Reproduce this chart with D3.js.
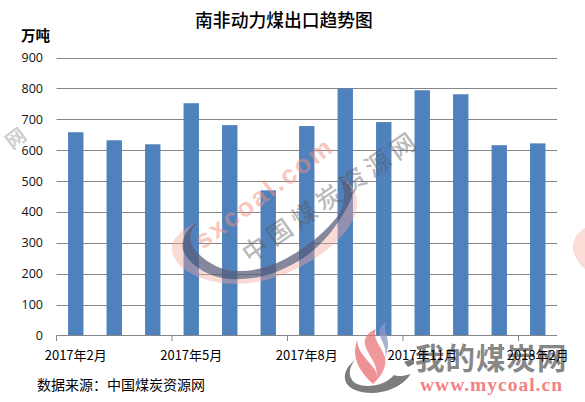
<!DOCTYPE html>
<html>
<head>
<meta charset="utf-8">
<script src="https://cdn.jsdelivr.net/npm/d3@7"></script>
<style>
  html, body { margin: 0; padding: 0; background: #fff; }
  svg { display: block; }
  text { font-family: "Open Sans", "Noto Sans CJK SC", sans-serif; fill: #111; }
  .cjk { font-family: "Noto Sans CJK SC", sans-serif; fill: #000; }
</style>
</head>
<body>
<svg id="chart"></svg>
<script>
const width = 585;
const height = 402;

// monthly exports
const months = ["2017年2月", "2017年3月", "2017年4月", "2017年5月", "2017年6月", "2017年7月", "2017年8月",
  "2017年9月", "2017年10月", "2017年11月", "2017年12月", "2018年1月", "2018年2月"];
const exportsWt = [658, 632, 619, 752, 681, 470, 678, 800, 691, 794, 781, 616, 622];
const yTicks = [0, 100, 200, 300, 400, 500, 600, 700, 800, 900];
const xLabels = ["2017年2月", "2017年5月", "2017年8月", "2017年11月", "2018年2月"];

const svg = d3.select("#chart").attr("width", width).attr("height", height);

const x = d3.scaleBand().domain(months).range([56.5, 557]).paddingInner(0.6).paddingOuter(0.3);
const y = d3.scaleLinear().domain([0, 900]).range([335.5, 57.5]);

// gridlines
svg.selectAll("line.grid")
  .data(yTicks.slice(1))
  .enter().append("line")
  .attr("class", "grid")
  .attr("x1", 56.5).attr("x2", 557)
  .attr("y1", d => Math.round(y(d)) + 0.5).attr("y2", d => Math.round(y(d)) + 0.5)
  .attr("stroke", "#868686");

// bars
svg.selectAll("rect.bar")
  .data(months)
  .enter().append("rect")
  .attr("class", "bar")
  .attr("x", d => x(d))
  .attr("width", x.bandwidth())
  .attr("y", (d, i) => y(exportsWt[i]))
  .attr("height", (d, i) => y(0) - y(exportsWt[i]))
  .attr("fill", "#4f81bd");

// y axis labels
svg.selectAll("text.ytick")
  .data(yTicks)
  .enter().append("text")
  .attr("class", "ytick")
  .attr("x", 43).attr("y", d => y(d) + 4.5)
  .attr("text-anchor", "end")
  .attr("font-size", 12.5)
  .text(d => d);

// x axis, ticks every third month
const step = x.step();
svg.append("line")
  .attr("x1", 56.5).attr("x2", 557).attr("y1", 335.5).attr("y2", 335.5)
  .attr("stroke", "#868686");
svg.selectAll("line.xtick")
  .data(xLabels)
  .enter().append("line")
  .attr("class", "xtick")
  .attr("x1", d => x(d) + x.bandwidth() / 2 - step / 2)
  .attr("x2", d => x(d) + x.bandwidth() / 2 - step / 2)
  .attr("y1", 335.5).attr("y2", 341)
  .attr("stroke", "#868686");

// titles
svg.append("text").attr("class", "cjk")
  .attr("x", 284).attr("y", 27)
  .attr("text-anchor", "middle")
  .attr("font-size", 17.8).attr("font-weight", 500)
  .text("南非动力煤出口趋势图");
svg.append("text").attr("class", "cjk")
  .attr("x", 21).attr("y", 41)
  .attr("font-size", 14.5).attr("font-weight", 700)
  .text("万吨");
svg.append("text").attr("class", "cjk")
  .attr("x", 37).attr("y", 390)
  .attr("font-size", 14)
  .text("数据来源：中国煤炭资源网");

// watermarks sit on top of the chart
const wm = svg.append("g");

// pink and dark swoosh, they share the inner edge
const swooshInner = "C347,190 345,205 337,217 C325,232 305,250 277,263 C262,269 250,271 240,271 C222,272 205,262 195,250 C187,240 190,230 198,222 Z";
wm.append("path")
  .attr("d", "M198,222 C180,230 170,240 172,251 C175,270 205,284 235,284 C275,284 320,262 345,232 C356,218 360,205 355,192 C352,185 345,180 338,176 " + swooshInner)
  .attr("fill", "#f4a79b").attr("fill-opacity", 0.42);
wm.append("path")
  .attr("d", "M198,222 C186,228 181,240 183,250 C188,265 212,281 240,279 C262,279 282,271 300,260 C318,250 340,225 352,197 C353,188 345,180 338,176 " + swooshInner)
  .attr("fill", "#24466e").attr("fill-opacity", 0.55);

wm.append("text")
  .attr("transform", "translate(203,250) rotate(-37)")
  .attr("font-size", 26).attr("font-weight", 700)
  .attr("letter-spacing", 2.5)
  .style("font-family", "'Liberation Sans', sans-serif")
  .style("fill", "#f08f80").style("fill-opacity", 0.5)
  .text("sxcoal.com");

wm.append("text")
  .attr("class", "cjk")
  .attr("transform", "translate(250,264) rotate(-35)")
  .attr("font-size", 25).attr("font-weight", 500).attr("letter-spacing", 5)
  .style("fill", "#555").style("fill-opacity", 0.42)
  .text("中国煤炭资源网");

// neighbouring tiles of the repeated watermark
wm.append("text").attr("class", "cjk")
  .attr("transform", "translate(12,150) rotate(-37)")
  .attr("font-size", 20).attr("font-weight", 700)
  .style("fill", "#555").style("fill-opacity", 0.3)
  .text("网");
wm.append("path")
  .attr("d", "M585,228 C574,234 570,246 575,256 C578,262 581,266 585,269 Z")
  .attr("fill", "#f4a79b").attr("fill-opacity", 0.4);

// mycoal logo, bottom right
const logo = svg.append("g");
logo.append("path")
  .attr("d", "M355,360 C342,370 341,384 355,390 C372,397 398,392 411,374 C404,376 398,377 394,375 C385,386 365,389 355,383 C347,377 349,367 355,360 Z")
  .attr("fill", "#7d7d7d");
logo.append("path")
  .attr("d", "M404,362 L414,358 L414,364 L408,367 Z")
  .attr("fill", "#7d7d7d");
// flame tongues
logo.append("path")
  .attr("d", "M373,384 C360,372 351,358 357,340 C358,352 366,358 372,366 C378,372 378,378 373,384 Z")
  .attr("fill", "#e8767a").attr("fill-opacity", 0.8);
logo.append("path")
  .attr("d", "M373,384 C383,370 370,358 366,348 C362,338 368,332 376,329 C372,340 382,346 385,358 C387,368 380,378 373,384 Z")
  .attr("fill", "#e8767a").attr("fill-opacity", 0.75);
logo.append("path")
  .attr("d", "M385,360 C388,350 382,342 380,336 C378,330 381,325 386,322 C383,332 391,340 387,352 Z")
  .attr("fill", "#8c9ac4").attr("fill-opacity", 0.75);

logo.append("text").attr("class", "cjk")
  .attr("x", 415).attr("y", 369)
  .attr("font-size", 29.5).attr("font-weight", 700)
  .attr("letter-spacing", 1)
  .style("fill", "#666").style("fill-opacity", 0.8)
  .text("我的煤炭网");
logo.append("text")
  .attr("x", 420).attr("y", 391)
  .attr("font-size", 19.5).attr("font-weight", 700)
  .attr("letter-spacing", 1)
  .style("font-family", "'Liberation Serif', serif")
  .style("fill", "#f47f85")
  .text("www.mycoal.cn");

// axis labels stay readable over the logo
svg.selectAll("text.xlabel")
  .data(xLabels)
  .enter().append("text")
  .attr("class", "xlabel cjk")
  .attr("x", d => x(d) + x.bandwidth() / 2)
  .attr("y", 360)
  .attr("text-anchor", "middle")
  .attr("font-size", 13)
  .text(d => d);
</script>
</body>
</html>
